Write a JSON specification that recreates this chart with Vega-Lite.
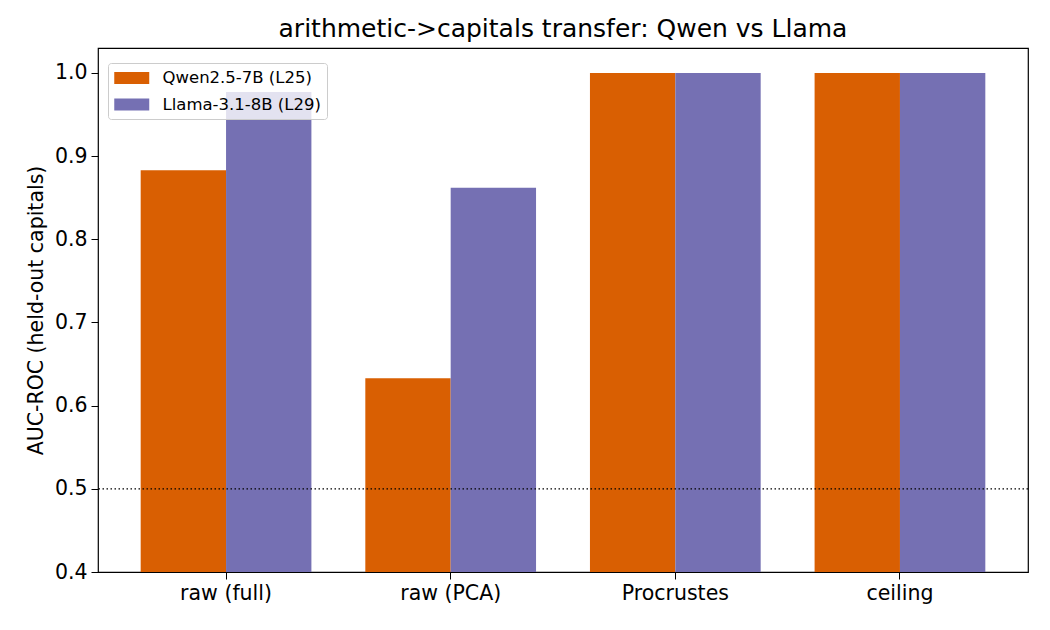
{
  "$schema": "https://vega.github.io/schema/vega-lite/v6.json",
  "width": 930,
  "height": 524,
  "autosize": {"type": "none"},
  "padding": {"left": 98, "top": 48, "right": 22, "bottom": 58},
  "background": "white",
  "title": {
    "text": "arithmetic->capitals transfer: Qwen vs Llama",
    "font": "DejaVu Sans",
    "fontSize": 25,
    "fontWeight": "normal",
    "color": "black",
    "offset": 6
  },
  "config": {
    "font": "DejaVu Sans",
    "view": {"stroke": "black", "strokeWidth": 1.2},
    "axis": {
      "domain": false,
      "tickColor": "black",
      "tickSize": 7,
      "labelColor": "black",
      "labelFontSize": 20.5,
      "titleColor": "black",
      "titleFontSize": 20.5,
      "titleFontWeight": "normal",
      "grid": false
    }
  },
  "datasets": {
    "auc": [
      {"method": "raw (full)", "model": "Qwen2.5-7B (L25)", "auc": 0.883},
      {"method": "raw (full)", "model": "Llama-3.1-8B (L29)", "auc": 0.977},
      {"method": "raw (PCA)", "model": "Qwen2.5-7B (L25)", "auc": 0.633},
      {"method": "raw (PCA)", "model": "Llama-3.1-8B (L29)", "auc": 0.862},
      {"method": "Procrustes", "model": "Qwen2.5-7B (L25)", "auc": 1.0},
      {"method": "Procrustes", "model": "Llama-3.1-8B (L29)", "auc": 1.0},
      {"method": "ceiling", "model": "Qwen2.5-7B (L25)", "auc": 1.0},
      {"method": "ceiling", "model": "Llama-3.1-8B (L29)", "auc": 1.0}
    ],
    "chance": [{"y": 0.5}]
  },
  "layer": [
    {
      "data": {"name": "auc"},
      "mark": {"type": "bar"},
      "encoding": {
        "x": {
          "field": "method",
          "type": "nominal",
          "sort": ["raw (full)", "raw (PCA)", "Procrustes", "ceiling"],
          "scale": {"paddingInner": 0.24, "paddingOuter": 0.19},
          "axis": {"title": null, "labelAngle": 0, "labelPadding": 4, "ticks": true}
        },
        "xOffset": {
          "field": "model",
          "type": "nominal",
          "sort": ["Qwen2.5-7B (L25)", "Llama-3.1-8B (L29)"],
          "scale": {"paddingInner": 0, "paddingOuter": 0}
        },
        "y": {
          "field": "auc",
          "type": "quantitative",
          "scale": {"domain": [0.4, 1.03], "nice": false, "zero": false},
          "axis": {
            "title": "AUC-ROC (held-out capitals)",
            "values": [0.4, 0.5, 0.6, 0.7, 0.8, 0.9, 1.0],
            "format": ".1f",
            "titlePadding": 8,
            "labelPadding": 4
          }
        },
        "y2": {"datum": 0.4},
        "color": {
          "field": "model",
          "type": "nominal",
          "scale": {
            "domain": ["Qwen2.5-7B (L25)", "Llama-3.1-8B (L29)"],
            "range": ["#d95f02", "#7570b3"]
          },
          "legend": {
            "title": null,
            "orient": "none",
            "legendX": 10,
            "legendY": 15,
            "symbolType": "M-2,-0.7H2V0.7H-2Z",
            "symbolSize": 306,
            "symbolOffset": 8.75,
            "symbolStrokeWidth": 0,
            "labelFontSize": 16.5,
            "labelColor": "black",
            "labelOffset": 21.75,
            "rowPadding": 8.5,
            "padding": 6,
            "fillColor": "rgba(255,255,255,0.8)",
            "strokeColor": "#cccccc",
            "cornerRadius": 3
          }
        }
      }
    },
    {
      "data": {"name": "chance"},
      "mark": {"type": "rule", "color": "black", "strokeDash": [1.5, 2.5], "strokeWidth": 1.3},
      "encoding": {
        "y": {"field": "y", "type": "quantitative"}
      }
    }
  ]
}
